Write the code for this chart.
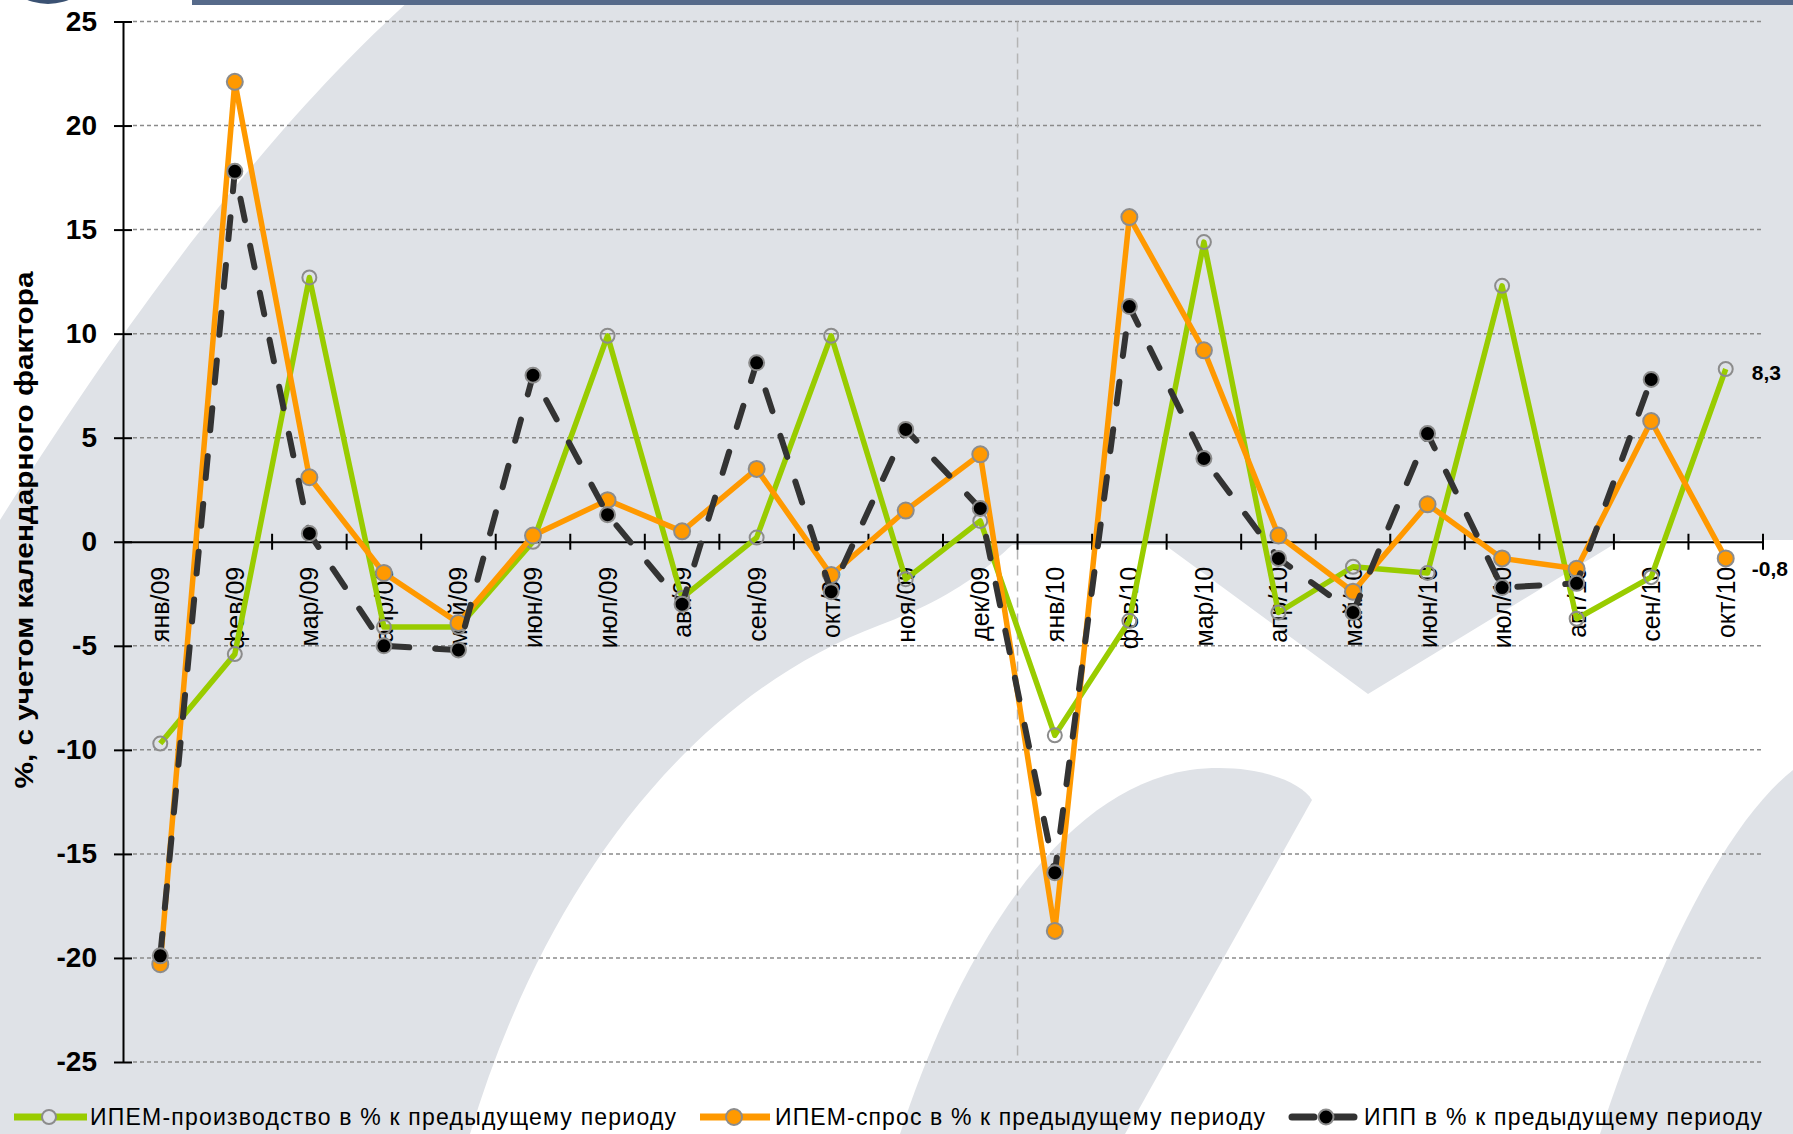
<!DOCTYPE html>
<html>
<head>
<meta charset="utf-8">
<script src="https://cdn.jsdelivr.net/npm/d3@7"></script>
<style>
  body { margin: 0; background: #fff; }
  svg { display: block; font-family: 'Liberation Sans', Arial, sans-serif; }
</style>
</head>
<body>
<div class="vis"></div>
<script>
const months = [
  'янв/09', 'фев/09', 'мар/09', 'апр/09', 'май/09', 'июн/09',
  'июл/09', 'авг/09', 'сен/09', 'окт/09', 'ноя/09', 'дек/09',
  'янв/10', 'фев/10', 'мар/10', 'апр/10', 'май/10', 'июн/10',
  'июл/10', 'авг/10', 'сен/10', 'окт/10'
]

// ИПЕМ-производство
const ipemProduction = [
  -9.7, -5.4, 12.7, -4.1, -4.1, 0.0, 9.9, -2.7, 0.2, 9.9, -1.8, 1.0,
  -9.3, -3.8, 14.4, -3.4, -1.2, -1.5, 12.3, -3.7, -1.7, 8.3
]

// ИПЕМ-спрос
const ipemDemand = [
  -20.3, 22.1, 3.1, -1.5, -3.9, 0.3, 2.0, 0.5, 3.5, -1.6, 1.5, 4.2,
  -18.7, 15.6, 9.2, 0.3, -2.4, 1.8, -0.8, -1.3, 5.8, -0.8
]

// ИПП
const ipp = [
  -19.9, 17.8, 0.4, -5.0, -5.2, 8.0, 1.3, -3.0, 8.6, -2.4, 5.4, 1.6,
  -15.9, 11.3, 4.0, -0.8, -3.4, 5.2, -2.2, -2.0, 7.8, null
]

const yTicks = [-25, -20, -15, -10, -5, 0, 5, 10, 15, 20, 25]

const seriesNames = [
  'ИПЕМ-производство в % к предыдущему периоду',
  'ИПЕМ-спрос в % к предыдущему периоду',
  'ИПП в % к предыдущему периоду'
]

const yTitle = '%, с учетом календарного фактора'

const W = 1793
const H = 1134
const bgGray = '#dfe2e7'

const svg = d3
  .select('.vis')
  .append('svg')
  .attr('width', W)
  .attr('height', H)

// watermark-ish background
const bg = svg.append('g').attr('class', 'background')
bg.append('rect').attr('width', W).attr('height', H).attr('fill', bgGray)
bg
  .append('path')
  .attr('d', 'M0,0 L410,0 C300,100 170,250 0,520 Z')
  .attr('fill', '#fff')
bg
  .append('path')
  .attr(
    'd',
    'M470,1134 C540,900 680,700 880,625 C960,595 990,565 1012,545 L1165,545 L1368,694 L1621,540 L1793,540 L1793,1134 Z'
  )
  .attr('fill', '#fff')
bg
  .append('path')
  .attr('d', 'M900,1134 C960,950 1060,790 1190,770 C1250,762 1300,780 1312,800 L1125,1134 Z')
  .attr('fill', bgGray)
bg
  .append('path')
  .attr('d', 'M1600,1134 C1660,950 1730,820 1793,770 L1793,1134 Z')
  .attr('fill', bgGray)

// header bits
svg
  .append('rect')
  .attr('x', 192)
  .attr('y', 0)
  .attr('width', W - 192)
  .attr('height', 5)
  .attr('fill', '#566a8a')
svg
  .append('ellipse')
  .attr('cx', 48)
  .attr('cy', -24)
  .attr('rx', 40)
  .attr('ry', 28)
  .attr('fill', '#3b5273')

// scales
const x = d3
  .scaleBand()
  .domain(months)
  .range([123, 1763])

const y = d3
  .scaleLinear()
  .domain([-25, 25])
  .range([1062, 21.5])

const cx = m => x(m) + x.bandwidth() / 2

// grid
svg
  .append('g')
  .attr('class', 'grid')
  .selectAll('line')
  .data(yTicks.filter(d => d !== 0))
  .enter()
  .append('line')
  .attr('x1', 133)
  .attr('x2', 1763)
  .attr('y1', d => y(d))
  .attr('y2', d => y(d))
  .attr('stroke', '#8a8a8a')
  .attr('stroke-width', 1.5)
  .attr('stroke-dasharray', '4,3')

// year separator
const sepX = x(months[12])
svg
  .append('line')
  .attr('x1', sepX)
  .attr('x2', sepX)
  .attr('y1', y(25))
  .attr('y2', y(-25))
  .attr('stroke', '#b4b4b4')
  .attr('stroke-width', 1.5)
  .attr('stroke-dasharray', '10,6')

// y axis
const yAxis = d3
  .axisLeft(y)
  .tickValues(yTicks)
  .tickSizeOuter(0)
  .tickFormat(d => String(d))

svg
  .append('g')
  .attr('class', 'y axis')
  .attr('transform', `translate(${x.range()[0]},0)`)
  .call(yAxis)
  .call(g => {
    g.select('.domain').attr('stroke', '#000').attr('stroke-width', 2)
    g
      .selectAll('.tick line')
      .attr('x1', -9)
      .attr('x2', 9)
      .attr('stroke', '#000')
      .attr('stroke-width', 2)
    g
      .selectAll('.tick text')
      .attr('x', -26)
      .attr('font-size', 28)
      .attr('font-weight', 'bold')
      .attr('fill', '#000')
      .attr('font-family', "'Liberation Sans', Arial, sans-serif")
  })

// x axis
const xAxis = d3
  .axisBottom(x)
  .tickSize(0)
  .tickSizeOuter(0)

svg
  .append('g')
  .attr('class', 'x axis')
  .attr('transform', `translate(0,${y(0)})`)
  .call(xAxis)
  .call(g => {
    g.select('.domain').attr('stroke', '#000').attr('stroke-width', 2)
    g
      .selectAll('.tick text')
      .attr('transform', 'rotate(-90)')
      .attr('x', -25)
      .attr('y', 0)
      .attr('dy', '0.36em')
      .attr('text-anchor', 'end')
      .attr('font-size', 25)
      .attr('fill', '#000')
      .attr('font-family', "'Liberation Sans', Arial, sans-serif")
  })
  .call(g => {
    // ticks sit on category boundaries
    const bounds = months.map(m => x(m)).concat([x.range()[1]])
    g
      .selectAll('.bound')
      .data(bounds.slice(1))
      .enter()
      .append('line')
      .attr('class', 'bound')
      .attr('x1', d => d)
      .attr('x2', d => d)
      .attr('y1', -8)
      .attr('y2', 8)
      .attr('stroke', '#000')
      .attr('stroke-width', 2)
  })

// y title
svg
  .append('text')
  .attr('transform', `translate(24,530) rotate(-90)`)
  .attr('dy', '0.35em')
  .attr('text-anchor', 'middle')
  .attr('font-size', 26)
  .attr('font-weight', 'bold')
  .attr('textLength', 517)
  .attr('lengthAdjust', 'spacingAndGlyphs')
  .text(yTitle)

// series
const series = [
  { values: ipemProduction, color: '#99cc00', dash: null, fill: 'none', r: 7, w: 5.5 },
  { values: ipemDemand, color: '#ff9900', dash: null, fill: '#ff9900', r: 8, w: 5.5 },
  { values: ipp, color: '#333333', dash: '22,26', fill: '#000', r: 7.5, w: 6 }
]

const line = d3
  .line()
  .defined(d => d != null)
  .x((d, i) => cx(months[i]))
  .y(d => y(d))

series.forEach((s, si) => {
  const g = svg.append('g').attr('class', `series series-${si}`)
  g
    .append('path')
    .datum(s.values)
    .attr('d', line)
    .attr('fill', 'none')
    .attr('stroke', s.color)
    .attr('stroke-width', s.w)
    .attr('stroke-linejoin', 'round')
    .attr('stroke-linecap', s.dash ? 'round' : 'butt')
    .attr('stroke-dasharray', s.dash)
  g
    .selectAll('circle')
    .data(s.values.map((v, i) => ({ v, m: months[i] })).filter(d => d.v != null))
    .enter()
    .append('circle')
    .attr('cx', d => cx(d.m))
    .attr('cy', d => y(d.v))
    .attr('r', s.r)
    .attr('fill', s.fill)
    .attr('stroke', '#8c8c8c')
    .attr('stroke-width', 2)
})

// end value labels
const lastIdx = months.length - 1
const endLabels = [
  { v: ipemProduction[lastIdx], dy: 3 },
  { v: ipemDemand[lastIdx], dy: 10 }
]
svg
  .selectAll('.end-label')
  .data(endLabels)
  .enter()
  .append('text')
  .attr('class', 'end-label')
  .attr('x', cx(months[lastIdx]) + 26)
  .attr('y', d => y(d.v) + d.dy)
  .attr('dy', '0.36em')
  .attr('font-size', 21)
  .attr('font-weight', 'bold')
  .text(d => String(d.v).replace('.', ','))

// legend
const legendY = 1117
const legendItems = [
  { name: seriesNames[0], s: series[0], x0: 14, x1: 87, c: 49, tx: 90, tw: 586 },
  { name: seriesNames[1], s: series[1], x0: 700, x1: 770, c: 734, tx: 775, tw: 490 },
  { name: seriesNames[2], s: series[2], x0: 1292, x1: 1355, c: 1326, tx: 1364, tw: 398 }
]

const legend = svg
  .append('g')
  .attr('class', 'legend')
  .selectAll('g')
  .data(legendItems)
  .enter()
  .append('g')

legend
  .append('line')
  .attr('x1', d => d.x0)
  .attr('x2', d => d.x1)
  .attr('y1', legendY)
  .attr('y2', legendY)
  .attr('stroke', d => d.s.color)
  .attr('stroke-width', 7)
  .attr('stroke-linecap', d => (d.s.dash ? 'round' : 'butt'))
  .attr('stroke-dasharray', d => (d.s.dash ? '22,18' : null))

legend
  .append('circle')
  .attr('cx', d => d.c)
  .attr('cy', legendY)
  .attr('r', d => d.s.r)
  .attr('fill', d => (d.s.fill === 'none' ? bgGray : d.s.fill))
  .attr('stroke', '#8c8c8c')
  .attr('stroke-width', 2)

legend
  .append('text')
  .attr('x', d => d.tx)
  .attr('y', legendY)
  .attr('dy', '0.36em')
  .attr('font-size', 23)
  .attr('textLength', d => d.tw)
  .attr('lengthAdjust', 'spacing')
  .text(d => d.name)
</script>
</body>
</html>
